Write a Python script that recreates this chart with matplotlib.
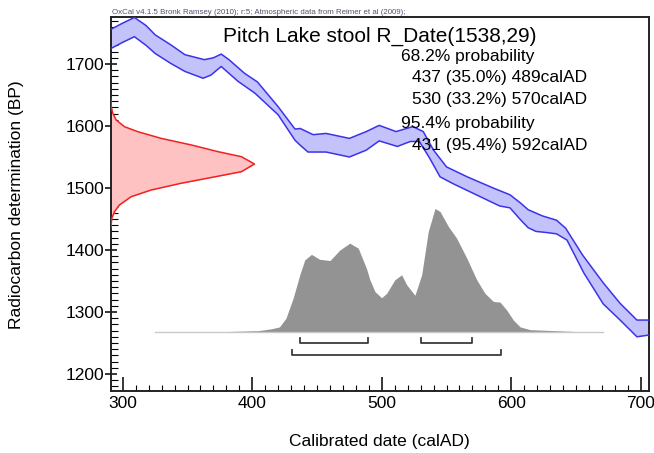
import numpy as np
import matplotlib
matplotlib.use("Agg")
import matplotlib.pyplot as plt
from matplotlib.ticker import MultipleLocator

plt.rcParams['font.family'] = ['Liberation Sans', 'DejaVu Sans']

# calibration curve (IntCal09 band), upper and lower edges
cal_up_year = [290, 300, 309, 318, 325, 337, 348, 363, 370, 376, 382, 394, 404, 420, 433, 437,
               447, 457, 475, 488, 498, 511, 524, 532, 540, 550, 560, 566, 586, 599, 607, 613,
               624, 635, 642, 655, 671, 684, 697, 707]
cal_up_bp = [1755, 1766, 1775, 1762, 1747, 1731, 1715, 1707, 1710, 1716, 1707, 1685, 1671, 1631, 1595, 1596,
             1586, 1588, 1580, 1591, 1601, 1591, 1599, 1591, 1561, 1534, 1524, 1518, 1500, 1489, 1476, 1465,
             1455, 1448, 1435, 1392, 1347, 1314, 1287, 1287]
cal_lo_year = [290, 300, 309, 318, 325, 337, 348, 362, 368, 376, 389, 402, 420, 433, 437, 443,
               457, 475, 488, 498, 512, 522, 529, 537, 545, 555, 573, 591, 599, 607, 613, 619,
               628, 635, 643, 656, 671, 684, 697, 707]
cal_lo_bp = [1724, 1735, 1744, 1730, 1717, 1701, 1688, 1677, 1682, 1696, 1672, 1653, 1618, 1577, 1569, 1558,
             1558, 1550, 1561, 1576, 1567, 1575, 1575, 1548, 1518, 1507, 1489, 1471, 1468, 1449, 1436, 1430,
             1428, 1426, 1416, 1363, 1313, 1287, 1260, 1263]

# radiocarbon measurement R_Date(1538,29), drawn along the y axis
c14_bp = [1645, 1630, 1620.5, 1609.7, 1598.9, 1590.8, 1580, 1569.4, 1558.6, 1550.5, 1538.7,
          1526.3, 1518, 1507.6, 1496.8, 1486, 1472.6, 1461.8, 1451, 1435]
c14_year = [290.7, 291.2, 292.3, 294.9, 301.3, 311.6, 329.7, 352.9, 373.5, 391.6, 401.7,
            391.6, 371, 345, 322, 306.5, 297.4, 293.6, 291.5, 290.8]

# calibrated distribution (grey)
post_year = [325, 380, 405, 415, 421, 426, 431.5, 436.7, 440.5, 445.7, 452, 460, 467.6, 475.3, 481.8,
             488.2, 490.8, 494.7, 499.8, 503.7, 510.1, 515.3, 519.2, 525.6, 530.8, 535.9, 541.1, 545,
             551.4, 557.8, 565.6, 573.3, 579.7, 586.2, 591.3, 596.5, 601.6, 606.8, 614.5, 632.6, 650.7, 671]
post_bp = [1268.3, 1268.5, 1270, 1273, 1276, 1290, 1322, 1360, 1384, 1393, 1385, 1383, 1400, 1411, 1403,
           1370, 1352, 1333, 1323, 1330, 1352, 1360, 1344, 1327, 1360, 1430, 1467, 1462,
           1438, 1419, 1387, 1352, 1330, 1317, 1316, 1303, 1287, 1276, 1271.5, 1270, 1268.5, 1268.3]
post_base = 1268.3

ranges_68 = [(437, 489), (530, 570)]
ranges_95 = [(431, 592)]

x_min, x_max = 290.7, 706.1
y_min, y_max = 1171.8, 1775.3

fig = plt.figure(figsize=(6.54, 4.53), dpi=100)
ax = fig.add_axes([0.1693, 0.1358, 0.8226, 0.826])

# calibration band
ax.fill(list(cal_up_year) + cal_lo_year[::-1], list(cal_up_bp) + cal_lo_bp[::-1],
        color='#c4c2fb', lw=0, zorder=2)
ax.plot(cal_up_year, cal_up_bp, color='#3b33ea', lw=1.1, zorder=3)
ax.plot(cal_lo_year, cal_lo_bp, color='#3b33ea', lw=1.1, zorder=3)

# measurement
ax.fill_betweenx(c14_bp, x_min, c14_year, color='#ffc2c2', lw=0, zorder=2)
ax.plot(c14_year, c14_bp, color='#f22020', lw=1.1, zorder=3)

# calibrated distribution
ax.fill_between(post_year, post_base, post_bp, color='#939393', lw=0, zorder=2)
ax.plot([post_year[0], post_year[-1]], [post_base, post_base], color='#c8c8c8', lw=1.0, zorder=2)

# ranges
for (a, b) in ranges_68:
    ax.plot([a, a, b, b], [1257.5, 1249.5, 1249.5, 1257.5], color='#3c3c3c', lw=1.3, zorder=3)
for (a, b) in ranges_95:
    ax.plot([a, a, b, b], [1238.6, 1230.6, 1230.6, 1238.6], color='#3c3c3c', lw=1.3, zorder=3)

ax.set_xlim(x_min, x_max)
ax.set_ylim(y_min, y_max)

ax.xaxis.set_major_locator(MultipleLocator(100))
ax.xaxis.set_minor_locator(MultipleLocator(10))
ax.yaxis.set_major_locator(MultipleLocator(100))
ax.yaxis.set_minor_locator(MultipleLocator(10))
ax.tick_params(axis='x', which='major', direction='in', length=10, width=1.1, labelsize=12.5, pad=3)
ax.tick_params(axis='x', which='minor', direction='in', length=4, width=0.8)
ax.tick_params(axis='y', which='major', direction='inout', length=9, width=1.1, labelsize=12.5, pad=0)
ax.tick_params(axis='y', which='minor', direction='in', length=5, width=0.8)
for s in ax.spines.values():
    s.set_linewidth(1.4)
    s.set_color('#222222')

ax.text(0.5, 0.948, 'Pitch Lake stool R_Date(1538,29)', transform=ax.transAxes,
        ha='center', va='center', fontsize=15)
lines = [(0.5396, 0.8947, '68.2% probability'),
         (0.5600, 0.8396, '437 (35.0%) 489calAD'),
         (0.5600, 0.7790, '530 (33.2%) 570calAD'),
         (0.5396, 0.7167, '95.4% probability'),
         (0.5600, 0.6587, '431 (95.4%) 592calAD')]
for x, y, t in lines:
    ax.text(x, y, t, transform=ax.transAxes, ha='left', va='center', fontsize=12.5, zorder=4)

fig.text(0.171, 0.969, 'OxCal v4.1.5 Bronk Ramsey (2010); r:5; Atmospheric data from Reimer et al (2009);',
         fontsize=5.7, color='#5a5070', ha='left', va='baseline')
fig.text(0.0255, 0.549, 'Radiocarbon determination (BP)', rotation=90,
         ha='center', va='center', fontsize=12.5)
fig.text(0.5795, 0.025, 'Calibrated date (calAD)', ha='center', va='center', fontsize=12.5)

fig.savefig('out.png', dpi=100)
